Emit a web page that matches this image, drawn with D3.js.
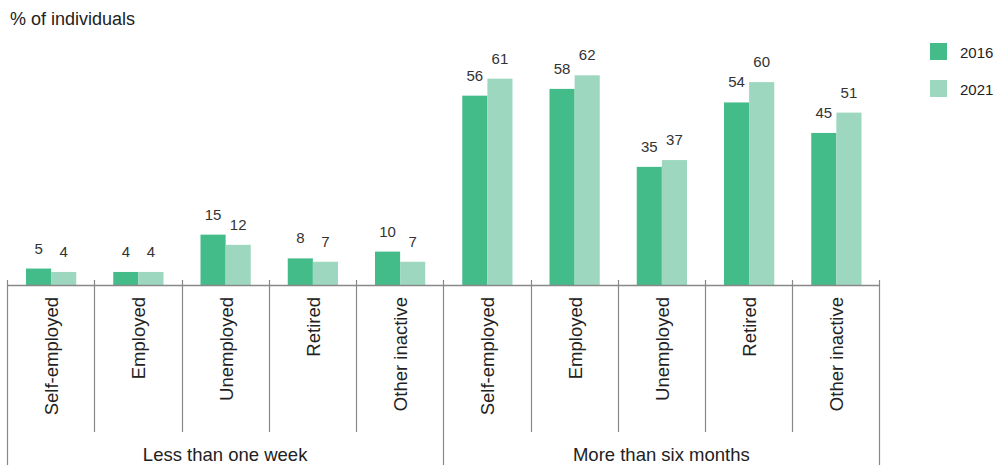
<!DOCTYPE html>
<html><head><meta charset="utf-8">
<script src="https://cdn.jsdelivr.net/npm/d3@7"></script>
<style>body{margin:0;background:#fff;font-family:"Liberation Sans",Arial,sans-serif;}</style>
</head><body><svg id="c" width="1003" height="465"></svg>
<script>
const groups = ["Less than one week", "More than six months"];
const categories = ["Self-employed","Employed","Unemployed","Retired","Other inactive"];
const seriesNames = ["2016","2021"];
const values2016 = [5,4,15,8,10,56,58,35,54,45];
const values2021 = [4,4,12,7,7,61,62,37,60,51];
const colors = ["#43bc8a","#9dd7bf"];

const svg = d3.select("#c");
const left = 7, right = 879.5, axisY = 285.5;
const keys = [];
groups.forEach((g,gi)=>categories.forEach((c,ci)=>keys.push(gi+"|"+c)));
const x = d3.scaleBand().domain(keys).range([left,right]).paddingInner(0).paddingOuter(0);
const x1 = d3.scaleBand().domain(seriesNames).range([19, x.bandwidth()-18]).padding(0);
const y = d3.scaleLinear().domain([0,62]).range([axisY, axisY-62*3.39]);

const data = keys.map((k,i)=>({key:k, vals:[values2016[i], values2021[i]]}));

const g = svg.append("g");
data.forEach(d=>{
  d.vals.forEach((v,si)=>{
    const bx = x(d.key)+x1(seriesNames[si]);
    g.append("rect").attr("x",bx).attr("y",y(v)).attr("width",x1.bandwidth()).attr("height",axisY-y(v)).attr("fill",colors[si]);
    g.append("text").attr("x",bx+x1.bandwidth()/2).attr("y",y(v)-15).attr("text-anchor","middle")
      .attr("font-size",15).attr("fill","#333").text(v);
  });
});

// axis line
svg.append("line").attr("x1",left).attr("x2",right).attr("y1",axisY).attr("y2",axisY).attr("stroke","#888").attr("stroke-width",1.5);
// category ticks
keys.forEach((k,i)=>{
  const tx = Math.round(x(k))+0.5;
  const isGroup = i % categories.length === 0;
  svg.append("line").attr("x1",tx).attr("x2",tx).attr("y1",280).attr("y2",isGroup?465:432).attr("stroke","#888").attr("stroke-width",1.2);
});
svg.append("line").attr("x1",right).attr("x2",right).attr("y1",280).attr("y2",465).attr("stroke","#888").attr("stroke-width",1.2);

// category labels
keys.forEach(k=>{
  const cx = x(k)+x.bandwidth()/2;
  const name = k.split("|")[1];
  svg.append("text").attr("transform",`translate(${cx+7.5},297) rotate(-90)`).attr("text-anchor","end")
    .attr("font-size",18.5).attr("fill","#222").text(name);
});
// group labels
groups.forEach((gname,gi)=>{
  const x0 = x(gi+"|"+categories[0]), x1e = x(gi+"|"+categories[categories.length-1])+x.bandwidth();
  svg.append("text").attr("x",(x0+x1e)/2).attr("y",461).attr("text-anchor","middle").attr("font-size",18.5).attr("fill","#222").text(gname);
});

// title
svg.append("text").attr("x",10).attr("y",25).attr("font-size",18).attr("fill","#222").text("% of individuals");

// legend
seriesNames.forEach((s,i)=>{
  const ly = 43 + i*37;
  svg.append("rect").attr("x",930).attr("y",ly).attr("width",17).attr("height",17).attr("fill",colors[i]);
  svg.append("text").attr("x",960).attr("y",ly+15).attr("font-size",15).attr("fill","#222").text(s);
});
</script></body></html>
